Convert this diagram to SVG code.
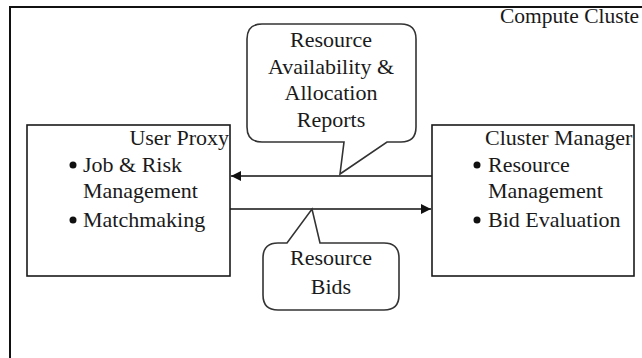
<svg xmlns="http://www.w3.org/2000/svg" width="642" height="358" viewBox="0 0 642 358">
<defs>
<style>
text{font-family:"Liberation Serif","Times New Roman",serif;font-size:22px;fill:#1a1a1a}
.box{fill:#fff;stroke:#1a1a1a;stroke-width:1.6}
.call{fill:#fff;stroke:#333;stroke-width:1.6}
.conn{stroke:#111;stroke-width:1.6;fill:none}
.mid{text-anchor:middle}
</style>
<marker id="ah" viewBox="0 0 10 10" refX="10" refY="5" markerWidth="10" markerHeight="10" markerUnits="userSpaceOnUse" orient="auto">
<path d="M0,0 L10,5 L0,10 z" fill="#111"/>
</marker>
</defs>
<rect width="642" height="358" fill="#fff"/>
<g id="frame">
<rect x="10" y="7" width="660" height="380" fill="none" stroke="#111" stroke-width="2"/>
<text x="500" y="23" style="font-size:21.5px">Compute Cluste</text>
</g>
<g id="connectors">
<line class="conn" x1="432" y1="176" x2="231" y2="176" marker-end="url(#ah)"/>
<line class="conn" x1="230" y1="209" x2="431" y2="209" marker-end="url(#ah)"/>
</g>
<g id="user-proxy">
<rect class="box" x="27" y="125" width="203" height="151"/>
<text x="229" y="145" text-anchor="end">User Proxy</text>
<circle cx="73" cy="165" r="3.5" fill="#111"/>
<text x="83" y="172">Job &amp; Risk</text>
<text x="83" y="198">Management</text>
<circle cx="73" cy="220" r="3.5" fill="#111"/>
<text x="83" y="227">Matchmaking</text>
</g>
<g id="cluster-manager">
<rect class="box" x="432" y="125" width="202" height="151"/>
<text x="485" y="145">Cluster Manager</text>
<circle cx="477" cy="165" r="3.5" fill="#111"/>
<text x="488" y="172">Resource</text>
<text x="488" y="198">Management</text>
<circle cx="477" cy="220" r="3.5" fill="#111"/>
<text x="488" y="227">Bid Evaluation</text>
</g>
<g id="callout-reports">
<path class="call" d="M262,24 H401 Q416,24 416,39 V127 Q416,142 401,142 H387 L340,174 L344,142 H262 Q247,142 247,127 V39 Q247,24 262,24 Z"/>
<text class="mid" x="331" y="47">Resource</text>
<text class="mid" x="331" y="74">Availability &amp;</text>
<text class="mid" x="331" y="100">Allocation</text>
<text class="mid" x="331" y="127">Reports</text>
</g>
<g id="callout-bids">
<path class="call" d="M278,243 H287 L312,209 L320,243 H384 Q399,243 399,258 V295 Q399,310 384,310 H278 Q263,310 263,295 V258 Q263,243 278,243 Z"/>
<text class="mid" x="331" y="265">Resource</text>
<text class="mid" x="331" y="294">Bids</text>
</g>
</svg>
